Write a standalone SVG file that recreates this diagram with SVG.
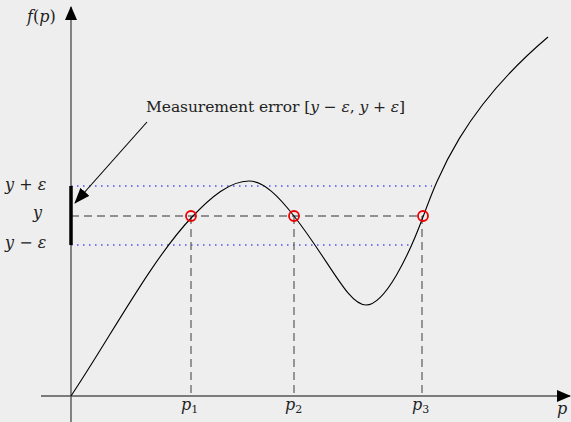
<svg xmlns="http://www.w3.org/2000/svg" width="571" height="422" viewBox="0 0 571 422">
<defs>
<marker id="ah" viewBox="0 0 14 12" refX="13" refY="6" markerWidth="14" markerHeight="12" markerUnits="userSpaceOnUse" orient="auto">
<path d="M0,0 L14,6 L0,12 Z" fill="#000"/>
</marker>
<marker id="ah2" viewBox="0 0 16 12" refX="15" refY="6" markerWidth="16" markerHeight="12" markerUnits="userSpaceOnUse" orient="auto">
<path d="M0,0 L16,6 L0,12 Z" fill="#000"/>
</marker>
</defs>
<style>
.t{font-family:"DejaVu Serif","Liberation Serif",serif;fill:#222;}
.m{font-style:italic;}
.axis{stroke:#555;stroke-width:1.4;fill:none;}
.hd{stroke:#333;stroke-width:1.1;stroke-dasharray:8,5;fill:none;}
.vd{stroke:#666;stroke-width:1.3;stroke-dasharray:8,5;fill:none;}
.bd{stroke:#0000ff;stroke-width:1.2;stroke-dasharray:1.5,4.5;fill:none;}
.pt{stroke:#e00;stroke-width:1.8;fill:none;}
</style>
<rect width="571" height="422" fill="#eeeeee"/>
<g id="connectors">
<line class="bd" x1="71" y1="186" x2="432" y2="186"/>
<line class="bd" x1="71" y1="245" x2="409" y2="245"/>
<line class="hd" x1="71" y1="216" x2="423" y2="216"/>
<line class="vd" x1="191" y1="216" x2="191" y2="394"/>
<line class="vd" x1="294" y1="216" x2="294" y2="394"/>
<line class="vd" x1="422" y1="216" x2="422" y2="394"/>
<line class="axis" x1="71" y1="422" x2="71" y2="7" marker-end="url(#ah)"/>
<line class="axis" x1="41" y1="396" x2="570" y2="396" marker-end="url(#ah)"/>
<line x1="71" y1="186" x2="71" y2="245" stroke="#000" stroke-width="3.5"/>
<line x1="147" y1="122" x2="75" y2="203" stroke="#000" stroke-width="1.1" marker-end="url(#ah2)"/>
</g>
<g id="curve">
<path d="M71,396 C111,336 152,259 192,217 C211,197 230,181 249,181 C264,181 279,196.8 294,216 C330,262 348,305 366,305 C385,305 409,254.8 423,217 C438,176 463,109 548,37" fill="none" stroke="#000" stroke-width="1.1"/>
</g>
<g id="points">
<circle class="pt" cx="191" cy="216" r="5"/>
<circle class="pt" cx="294" cy="216" r="5"/>
<circle class="pt" cx="423" cy="216" r="5"/>
</g>
<g id="labels">
<text class="t" x="27" y="22" font-size="16"><tspan class="m">f</tspan>(<tspan class="m">p</tspan>)</text>
<text class="t" x="557" y="414" font-size="16"><tspan class="m">p</tspan></text>
<text class="t" x="181" y="410" font-size="16"><tspan class="m">p</tspan><tspan font-size="11" dy="3">1</tspan></text>
<text class="t" x="285" y="410" font-size="16"><tspan class="m">p</tspan><tspan font-size="11" dy="3">2</tspan></text>
<text class="t" x="412" y="410" font-size="16"><tspan class="m">p</tspan><tspan font-size="11" dy="3">3</tspan></text>
<text class="t" x="5" y="190" font-size="16"><tspan class="m">y</tspan> + <tspan class="m">ε</tspan></text>
<text class="t" x="33" y="218" font-size="16"><tspan class="m">y</tspan></text>
<text class="t" x="5" y="248" font-size="16"><tspan class="m">y</tspan> − <tspan class="m">ε</tspan></text>
<text class="t" x="146" y="112" font-size="15.5" textLength="259" lengthAdjust="spacing">Measurement error [<tspan class="m">y</tspan> − <tspan class="m">ε</tspan>, <tspan class="m">y</tspan> + <tspan class="m">ε</tspan>]</text>
</g>
</svg>
